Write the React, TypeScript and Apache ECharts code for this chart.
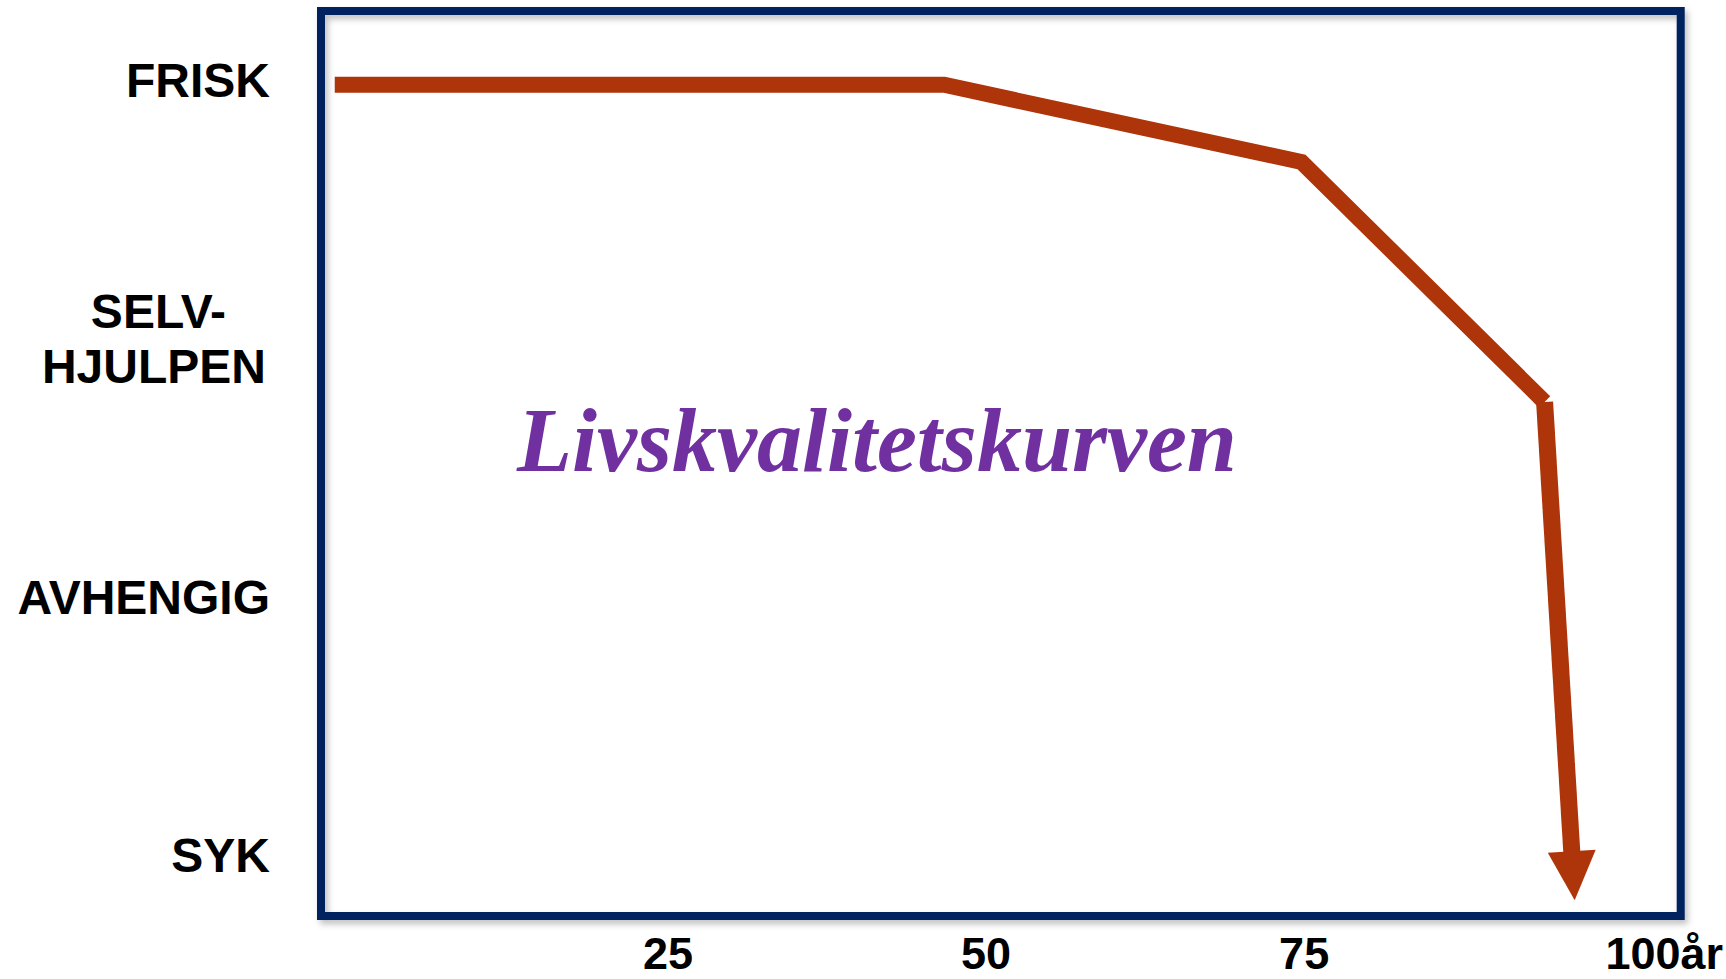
import React, { useEffect, useRef } from "react";
import * as echarts from "echarts";

// Curve vertices (age in years, quality level 0 = SYK ... 3 = FRISK)
const ages = [-1.2, 46.7, 74.8, 93.9];
const quality = [2.985, 2.985, 2.686, 1.756];
// Arrow segment end (centre of arrow head)
const arrowAge = 96.15;
const arrowQuality = -0.08;

const levelValues = [0, 1, 2, 3];
const levelNames = ["SYK", "AVHENGIG", "SELV-\nHJULPEN", "FRISK"];
const ageTicks = [25, 50, 75, 100];
const ageTickNames = ["25", "50", "75", "100år"];
const titleText = "Livskvalitetskurven";

export default function App() {
  const ref = useRef<HTMLDivElement>(null);
  useEffect(() => {
    if (!ref.current) return;
    const chart = echarts.init(ref.current, null, { renderer: "svg" });
    const red = "#AE3409";
    const navy = "#06205E";
    const lineData = ages.map((a, i) => [a, quality[i]]);
    chart.setOption({
      animation: false,
      backgroundColor: "#ffffff",
      title: {
        text: titleText,
        left: 512,
        top: 390,
        textStyle: {
          fontFamily: "'Liberation Serif', 'Times New Roman', serif",
          fontStyle: "italic",
          fontWeight: "bold",
          fontSize: 90,
          color: "#7030A0",
        },
      },
      grid: {
        left: 321,
        right: 45,
        top: 11,
        bottom: 63,
        show: true,
        borderColor: navy,
        borderWidth: 8,
        backgroundColor: "transparent",
        shadowColor: "rgba(0,0,0,0.25)",
        shadowBlur: 6,
        shadowOffsetX: 3,
        shadowOffsetY: 4,
      },
      xAxis: {
        type: "value",
        min: -2.28,
        max: 104.6,
        axisLine: { show: false },
        axisTick: { show: false, customValues: ageTicks },
        splitLine: { show: false },
        axisLabel: {
          customValues: ageTicks,
          margin: 15,
          color: "#000",
          fontFamily: "'Liberation Sans', Arial, sans-serif",
          fontWeight: "bold",
          fontSize: 45,
          formatter: (v: number) => {
            const i = ageTicks.indexOf(Math.round(v));
            if (i < 0) return "";
            if (i === ageTicks.length - 1) return "{r|" + ageTickNames[i] + "}";
            return ageTickNames[i];
          },
          rich: {
            r: {
              padding: [0, 0, 0, 84],
              color: "#000",
              fontFamily: "'Liberation Sans', Arial, sans-serif",
              fontWeight: "bold",
              fontSize: 45,
            },
          },
        },
      },
      yAxis: {
        type: "value",
        min: -0.236,
        max: 3.271,
        axisLine: { show: false },
        axisTick: { show: false, customValues: levelValues },
        splitLine: { show: false },
        axisLabel: {
          customValues: levelValues,
          margin: 51,
          color: "#000",
          fontFamily: "'Liberation Sans', Arial, sans-serif",
          fontWeight: "bold",
          fontSize: 48,
          lineHeight: 55,
          formatter: (v: number) => {
            const i = levelValues.indexOf(Math.round(v));
            if (i < 0) return "";
            const name = levelNames[i];
            if (name.indexOf("\n") >= 0) {
              const parts = name.split("\n");
              return "{s|" + parts[0] + "}\n{h|" + parts[1] + "}";
            }
            return name;
          },
          rich: {
            s: {
              padding: [0, 44, 0, 0],
              color: "#000",
              fontFamily: "'Liberation Sans', Arial, sans-serif",
              fontWeight: "bold",
              fontSize: 48,
              lineHeight: 55,
            },
            h: {
              padding: [0, 4, 0, 0],
              color: "#000",
              fontFamily: "'Liberation Sans', Arial, sans-serif",
              fontWeight: "bold",
              fontSize: 48,
              lineHeight: 55,
            },
          },
        },
      },
      series: [
        {
          type: "line",
          data: lineData,
          showSymbol: false,
          symbol: "none",
          silent: true,
          lineStyle: { color: red, width: 16, cap: "butt", join: "miter" },
          markLine: {
            silent: true,
            symbol: ["none", "triangle"],
            symbolSize: [48, 49],
            label: { show: false },
            lineStyle: { color: red, width: 17, type: "solid", cap: "butt" },
            data: [
              [
                { coord: [ages[ages.length - 1], quality[quality.length - 1]] },
                { coord: [arrowAge, arrowQuality] },
              ],
            ],
          },
        },
      ],
    });
    return () => chart.dispose();
  }, []);
  return (
    <div
      ref={ref}
      style={{ position: "fixed", left: 0, top: 0, width: 1726, height: 979 }}
    />
  );
}
